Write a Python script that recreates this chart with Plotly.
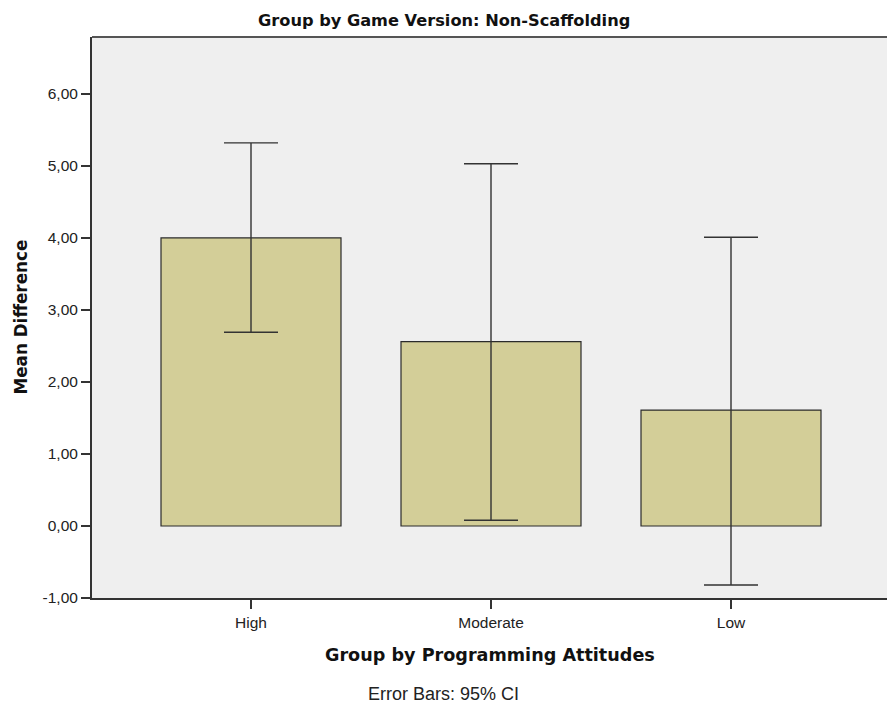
import plotly.graph_objects as go

# Mean difference per programming-attitude group with 95% CI bounds
groups = ["High", "Moderate", "Low"]
mean_diff = [4.00, 2.56, 1.61]
ci_upper = [5.32, 5.03, 4.01]
ci_lower = [2.69, 0.08, -0.82]

y_ticks = [-1, 0, 1, 2, 3, 4, 5, 6]
y_tick_text = ["-1,00", "0,00", "1,00", "2,00", "3,00", "4,00", "5,00", "6,00"]

err_plus = [u - m for u, m in zip(ci_upper, mean_diff)]
err_minus = [m - l for m, l in zip(mean_diff, ci_lower)]

W, H = 887, 707
L, R, T, B = 92, 0, 37, 109
plot_w = W - L - R
fig_center = (W / 2 - L) / plot_w  # paper x of the figure's horizontal centre

fig = go.Figure()
fig.add_trace(go.Bar(
    x=[0, 1, 2],
    y=mean_diff,
    width=0.75,
    marker=dict(color="#D3CE98", line=dict(color="#2b2b2b", width=1.2)),
    error_y=dict(type="data", symmetric=False, array=err_plus, arrayminus=err_minus,
                 color="#333333", thickness=1.4, width=27),
    hoverinfo="skip",
))

sans = "Liberation Sans, Arial, sans-serif"
bold = "DejaVu Sans, Verdana, sans-serif"

fig.update_layout(
    width=W, height=H,
    margin=dict(l=L, r=R, t=T, b=B),
    paper_bgcolor="white",
    plot_bgcolor="#EFEFEF",
    showlegend=False,
    font=dict(family=sans, color="#1a1a1a"),
    xaxis=dict(
        range=[-0.6625, 2.65],
        tickvals=[0, 1, 2], ticktext=groups,
        ticks="outside", ticklen=9, tickwidth=1.5, tickcolor="#333",
        showline=True, linecolor="#333", linewidth=2,
        showgrid=False, zeroline=False,
        tickfont=dict(size=15.5, color="#222", family=sans),
    ),
    yaxis=dict(
        range=[-1, 6.79],
        tickvals=y_ticks, ticktext=y_tick_text,
        ticks="outside", ticklen=9, tickwidth=1.5, tickcolor="#333",
        showline=True, linecolor="#333", linewidth=2,
        showgrid=False, zeroline=False,
        tickfont=dict(size=15.5, color="#222", family=sans),
    ),
    shapes=[dict(type="line", xref="paper", yref="paper", x0=0, x1=1, y0=1, y1=1,
                 line=dict(color="#555", width=2))],
    annotations=[
        dict(text="<b>Group by Game Version: Non-Scaffolding</b>", xref="paper", yref="paper",
             x=fig_center, y=1, yshift=17, xanchor="center", yanchor="middle", showarrow=False,
             font=dict(size=16.2, color="#111", family=bold)),
        dict(text="<b>Mean Difference</b>", xref="paper", yref="paper",
             x=0, y=0.5, xshift=-72, xanchor="center", yanchor="middle", textangle=-90,
             showarrow=False, font=dict(size=16.8, color="#111", family=bold)),
        dict(text="<b>Group by Programming Attitudes</b>", xref="paper", yref="paper",
             x=0.5, y=0, yshift=-57, xanchor="center", yanchor="middle", showarrow=False,
             font=dict(size=17.6, color="#111", family=bold)),
        dict(text="Error Bars: 95% CI", xref="paper", yref="paper",
             x=fig_center, y=0, yshift=-96, xanchor="center", yanchor="middle", showarrow=False,
             borderpad=0, font=dict(size=18, color="#222", family=sans)),
    ],
)

fig.write_html("out.html")
